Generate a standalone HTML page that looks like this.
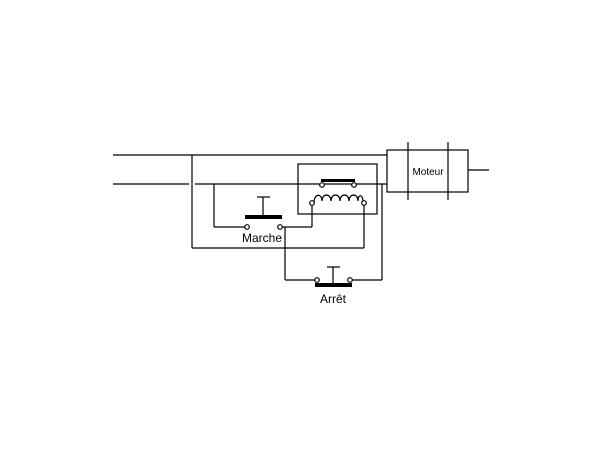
<!DOCTYPE html>
<html><head><style>body{margin:0;background:#fff}svg{display:block}</style></head><body>
<svg width="600" height="450" viewBox="0 0 600 450" xmlns="http://www.w3.org/2000/svg" fill="none" stroke="#000" stroke-width="1.2">
<!-- main lines -->
<line x1="113" y1="155" x2="387" y2="155"/>
<line x1="113" y1="184" x2="189" y2="184"/>
<line x1="195" y1="184" x2="387" y2="184"/>
<line x1="192" y1="155" x2="192" y2="248"/>
<line x1="192" y1="248" x2="364" y2="248"/>
<!-- motor -->
<rect x="387" y="150" width="81" height="42"/>
<line x1="408" y1="142" x2="408" y2="200"/>
<line x1="448" y1="142" x2="448" y2="200"/>
<line x1="468" y1="170" x2="489" y2="170"/>
<text x="428" y="175" font-family="Liberation Sans, sans-serif" font-size="10" fill="#000" stroke="none" text-anchor="middle">Moteur</text>
<!-- relay -->
<rect x="298" y="164" width="79" height="50"/>
<rect x="321" y="179" width="34" height="3" fill="#000" stroke="none"/>
<circle cx="322" cy="185" r="2.3" fill="#fff"/>
<circle cx="354" cy="185" r="2.3" fill="#fff"/>
<path d="M314,203 C314,193 322,193 322,201 C322,193 331,193 331,201 C331,193 340,193 340,201 C340,193 349,193 349,201 C349,193 358,193 358,201 C358,193 363,195 363,201"/>
<circle cx="312" cy="203" r="2.3" fill="#fff"/>
<circle cx="364" cy="203" r="2.3" fill="#fff"/>
<line x1="312" y1="205" x2="312" y2="227"/>
<line x1="312" y1="227" x2="282" y2="227"/>
<line x1="364" y1="205" x2="364" y2="248"/>
<line x1="382" y1="184" x2="382" y2="280"/>
<line x1="382" y1="280" x2="352" y2="280"/>
<!-- Marche -->
<line x1="214" y1="184" x2="214" y2="227"/>
<line x1="214" y1="227" x2="245" y2="227"/>
<circle cx="247" cy="227" r="2.3" fill="#fff"/>
<circle cx="280" cy="227" r="2.3" fill="#fff"/>
<rect x="245" y="215" width="37" height="4" fill="#000" stroke="none"/>
<line x1="263" y1="197" x2="263" y2="215"/>
<line x1="257" y1="197" x2="270" y2="197"/>
<text x="262" y="242" font-family="Liberation Sans, sans-serif" font-size="12" fill="#000" stroke="none" text-anchor="middle">Marche</text>
<line x1="285" y1="227" x2="285" y2="280"/>
<line x1="285" y1="280" x2="315" y2="280"/>
<!-- Arret -->
<circle cx="317" cy="280" r="2.3" fill="#fff"/>
<circle cx="350" cy="280" r="2.3" fill="#fff"/>
<rect x="315" y="283" width="37" height="4" fill="#000" stroke="none"/>
<line x1="333" y1="267" x2="333" y2="283"/>
<line x1="327" y1="267" x2="340" y2="267"/>
<text x="333" y="303" font-family="Liberation Sans, sans-serif" font-size="12" fill="#000" stroke="none" text-anchor="middle">Arrêt</text>
</svg>
</body></html>
